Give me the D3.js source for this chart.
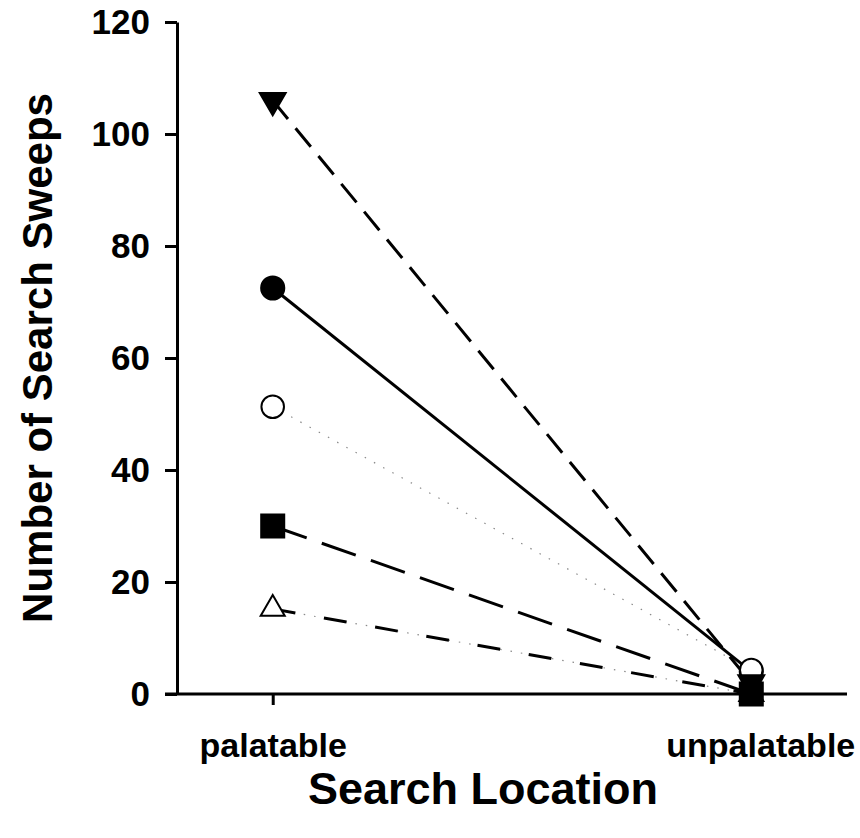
<!DOCTYPE html>
<html>
<head>
<meta charset="utf-8">
<script src="https://cdn.jsdelivr.net/npm/d3@7"></script>
<style>
  body { margin: 0; background: #fff; }
  svg { display: block; font-family: Arial, "Liberation Sans", sans-serif; }
</style>
</head>
<body>
<svg id="chart" width="860" height="838"></svg>
<script>
// categories + values
const locations = ["palatable", "unpalatable"]
const yTicks = [0, 20, 40, 60, 80, 100, 120]

const filledCircle = [72.5, 4.0]
const openCircle = [51.3, 4.3]
const openTriangle = [15.2, 0]
const downTriangle = [106, 2.0]
const filledSquare = [30, 0]

// drawing order = stacking order at the unpalatable end
const series = [
  { name: "filledCircle", values: filledCircle, symbol: d3.symbolCircle, size: 420, fill: "#000", dash: null, dots: false, rotate: 0 },
  { name: "openCircle", values: openCircle, symbol: d3.symbolCircle, size: 400, fill: "#fff", dash: "none", dots: true, rotate: 0 },
  { name: "openTriangle", values: openTriangle, symbol: d3.symbolTriangle, size: 250, fill: "#fff", dash: "23,29", dots: true, rotate: 0 },
  { name: "downTriangle", values: downTriangle, symbol: d3.symbolTriangle, size: 290, fill: "#000", dash: "24,12", dots: false, rotate: 180 },
  { name: "filledSquare", values: filledSquare, symbol: d3.symbolSquare, size: 530, fill: "#000", dash: "36,16", dots: false, rotate: 0 }
]

const svg = d3.select("#chart")
const plot = { left: 177, right: 847, top: 22, bottom: 694 }

const x = d3.scalePoint()
  .domain(locations)
  .range([plot.left, plot.right])
  .padding(0.2)

const y = d3.scaleLinear()
  .domain([0, 120])
  .range([plot.bottom, plot.top])

/* axes */
const yAxis = svg.append("g")
  .attr("transform", "translate(" + plot.left + ",0)")
  .call(d3.axisLeft(y).tickValues(yTicks).tickSize(12).tickPadding(15).tickSizeOuter(0))
yAxis.select(".domain").attr("stroke-width", 3)
yAxis.selectAll(".tick line").attr("stroke-width", 3)
yAxis.selectAll("text")
  .attr("font-size", 35).attr("font-weight", "bold")
  .attr("font-family", "Arial, 'Liberation Sans', sans-serif")
  .attr("fill", "#000")

const xAxis = svg.append("g")
  .attr("transform", "translate(0," + plot.bottom + ")")
  .call(d3.axisBottom(x).tickSize(11).tickPadding(28).tickSizeOuter(0))
xAxis.select(".domain").attr("stroke-width", 3)
  .attr("d", "M" + (plot.left - 12) + ",0H" + plot.right)
xAxis.selectAll(".tick line").attr("stroke-width", 3)
xAxis.selectAll("text")
  .attr("font-size", 34).attr("font-weight", "bold")
  .attr("font-family", "Arial, 'Liberation Sans', sans-serif")
  .attr("fill", "#000")
  .attr("dx", (d, i) => i === locations.length - 1 ? 9 : 0)

/* lines */
const line = d3.line()
  .x((d, i) => x(locations[i]))
  .y(d => y(d))

series.forEach(s => {
  if (s.dots) {
    svg.append("path")
      .datum(s.values)
      .attr("fill", "none")
      .attr("stroke", "#8a8a8a")
      .attr("stroke-width", 1.2)
      .attr("stroke-dasharray", "1.5,9")
      .attr("d", line)
  }
  if (s.dash !== "none") {
    svg.append("path")
      .datum(s.values)
      .attr("fill", "none")
      .attr("stroke", "#000")
      .attr("stroke-width", 3)
      .attr("stroke-dasharray", s.dash)
      .attr("d", line)
  }
})

/* markers */
series.forEach(s => {
  svg.append("g")
    .selectAll("path")
    .data(s.values)
    .enter().append("path")
      .attr("transform", (d, i) => "translate(" + x(locations[i]) + "," + y(d) + ") rotate(" + s.rotate + ")")
      .attr("d", d3.symbol().type(s.symbol).size(s.size))
      .attr("fill", s.fill)
      .attr("stroke", "#000")
      .attr("stroke-width", 2)
})

/* titles */
svg.append("text")
  .attr("transform", "translate(52," + (plot.top + plot.bottom) / 2 + ") rotate(-90)")
  .attr("text-anchor", "middle")
  .attr("font-size", 42).attr("font-weight", "bold")
  .text("Number of Search Sweeps")

svg.append("text")
  .attr("x", 483)
  .attr("y", 804)
  .attr("text-anchor", "middle")
  .attr("font-size", 45).attr("font-weight", "bold")
  .text("Search Location")
</script>
</body>
</html>
